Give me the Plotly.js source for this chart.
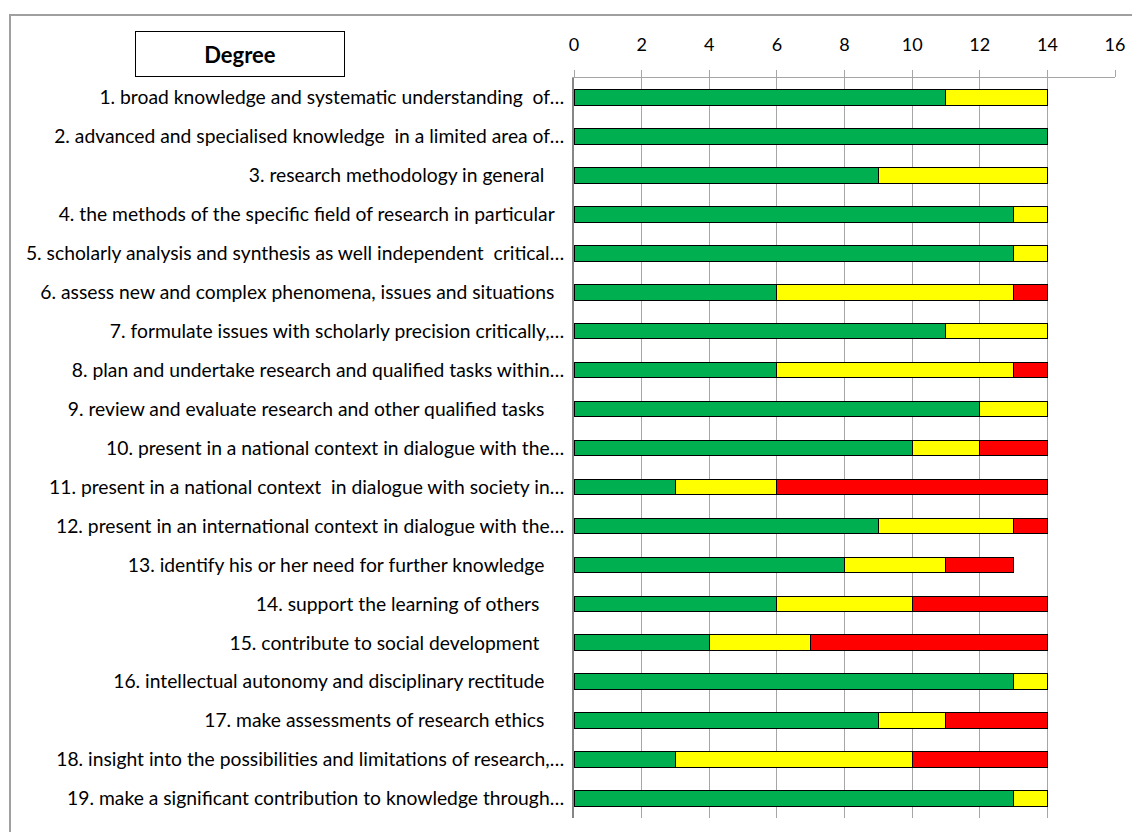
<!DOCTYPE html>
<html>
<head>
<meta charset="utf-8">
<script src="https://cdn.plot.ly/plotly-3.0.1.min.js"></script>
<style>html,body{margin:0;padding:0;background:#fff;}#chart{width:1132px;height:832px;}</style>
</head>
<body>
<div id="chart"></div>
<script>
const categories = [
  "1. broad knowledge and systematic understanding  of…",
  "2. advanced and specialised knowledge  in a limited area of…",
  "3. research methodology in general\u00a0\u00a0\u00a0\u00a0",
  "4. the methods of the specific field of research in particular\u00a0\u00a0",
  "5. scholarly analysis and synthesis as well independent  critical…",
  "6. assess new and complex phenomena, issues and situations\u00a0\u00a0",
  "7. formulate issues with scholarly precision critically,…",
  "8. plan and undertake research and qualified tasks within…",
  "9. review and evaluate research and other qualified tasks\u00a0\u00a0\u00a0\u00a0",
  "10. present in a national context in dialogue with the…",
  "11. present in a national context  in dialogue with society in…",
  "12. present in an international context in dialogue with the…",
  "13. identify his or her need for further knowledge\u00a0\u00a0\u00a0\u00a0",
  "14. support the learning of others\u00a0\u00a0\u00a0\u00a0\u00a0",
  "15. contribute to social development\u00a0\u00a0\u00a0\u00a0\u00a0",
  "16. intellectual autonomy and disciplinary rectitude\u00a0\u00a0\u00a0\u00a0",
  "17. make assessments of research ethics\u00a0\u00a0\u00a0\u00a0",
  "18. insight into the possibilities and limitations of research,…",
  "19. make a significant contribution to knowledge through…"
];
const greenValues  = [11,14,9,13,13,6,11,6,12,10,3,9,8,6,4,13,9,3,13];
const yellowValues = [3,0,5,1,1,7,3,7,2,2,3,4,3,4,3,1,2,7,1];
const redValues    = [0,0,0,0,0,1,0,1,0,2,8,1,2,4,7,0,3,4,0];
const xTicks = [0,2,4,6,8,10,12,14,16];

const nz = a => a.map(v => v === 0 ? null : v);
const mk = (vals, color) => ({
  type: 'bar', orientation: 'h', y: categories, x: nz(vals),
  marker: {color: color, line: {color: '#000000', width: 1}},
  hoverinfo: 'x+y', showlegend: false
});
const data = [mk(greenValues,'#00B050'), mk(yellowValues,'#FFFF00'), mk(redValues,'#FF0000')];

const W = 1132, H = 832, L = 574, R = 17, T = 78, B = 14;
const pw = W - L - R, ph = H - T - B;
const px = x => (x - L) / pw;
const py = y => 1 - (y - T) / ph;

const layout = {
  width: W, height: H,
  margin: {l: L, r: R, t: T, b: B, pad: 0},
  paper_bgcolor: '#ffffff', plot_bgcolor: '#ffffff',
  barmode: 'stack', bargap: 0.6,
  font: {family: 'Lato, "Liberation Sans", sans-serif', size: 19, color: '#000000'},
  xaxis: {
    side: 'top', range: [0, 16], tickvals: xTicks, ticktext: xTicks.map(String),
    showgrid: true, gridcolor: '#a6a6a6', gridwidth: 1,
    showline: true, linecolor: '#a6a6a6', linewidth: 1,
    ticks: 'outside', ticklen: 7, tickcolor: '#a6a6a6', tickwidth: 1,
    ticklabelstandoff: 12,
    zeroline: false, fixedrange: true,
    tickfont: {size: 18, color: '#000000'}
  },
  yaxis: {
    type: 'category', autorange: 'reversed', automargin: false,
    showline: true, linecolor: '#868686', linewidth: 2,
    showgrid: false, ticks: '', ticklabelstandoff: 4,
    tickfont: {size: 19.3, color: '#000000'}, fixedrange: true
  },
  shapes: [{
    type: 'rect', xref: 'paper', yref: 'paper', layer: 'below',
    x0: px(10), x1: px(1150), y0: py(850), y1: py(15),
    line: {color: '#a0a0a0', width: 2}, fillcolor: 'rgba(0,0,0,0)'
  }],
  annotations: [{
    xref: 'paper', yref: 'paper', x: px(240), y: py(54),
    xanchor: 'center', yanchor: 'middle', showarrow: false,
    text: '<b>Degree</b>', font: {size: 22, color: '#000000'},
    width: 206, height: 42, borderpad: 1,
    bordercolor: '#000000', borderwidth: 1, bgcolor: '#ffffff'
  }]
};

Plotly.newPlot('chart', data, layout, {displayModeBar: false, staticPlot: true});
</script>
</body>
</html>
